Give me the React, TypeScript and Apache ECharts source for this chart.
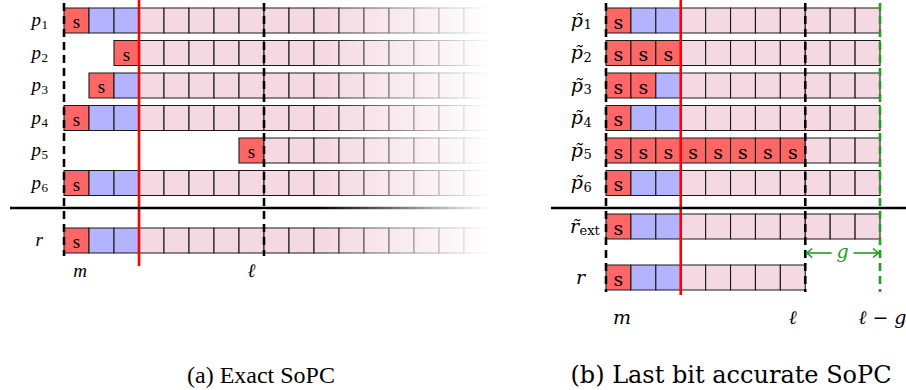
import { useEffect, useRef } from 'react';
import * as echarts from 'echarts';

const SERIF = 'Liberation Serif';
const SERIF_B = 'DejaVu Serif';

// ---------- Panel (a): Exact SoPC ----------
const rowBaseA = ['p', 'p', 'p', 'p', 'p', 'p', 'r'];
const rowSubA = ['1', '2', '3', '4', '5', '6', ''];
const startA = [0, 2, 1, 0, 7, 0, 0];
const signA = [1, 1, 1, 1, 1, 1, 1];
const blueA = [2, 0, 1, 2, 0, 2, 2];
const endA = [17, 17, 17, 17, 17, 17, 17];
const markerColA = [0, 3, 8];
const markerKindA = ['dash', 'red', 'dash'];
const axisLabelA = ['m', 'ℓ'];
const axisLabelColA = [0, 8];

// ---------- Panel (b): Last bit accurate SoPC ----------
const rowBaseB = ['p\u0303', 'p\u0303', 'p\u0303', 'p\u0303', 'p\u0303', 'p\u0303', 'r\u0303', 'r'];
const rowSubB = ['1', '2', '3', '4', '5', '6', 'ext', ''];
const startB = [0, 0, 0, 0, 0, 0, 0, 0];
const signB = [1, 3, 2, 1, 8, 1, 1, 1];
const blueB = [2, 0, 1, 2, 0, 2, 2, 2];
const endB = [11, 11, 11, 11, 11, 11, 11, 8];
const markerColB = [0, 3, 8, 11];
const markerKindB = ['dash', 'red', 'dash', 'green'];
const axisLabelB = ['m', 'ℓ', 'ℓ − g'];
const axisLabelColB = [0, 8, 11];
const gapFromB = 8;
const gapToB = 11;
const gapLabel = 'g';

const captions = ['(a) Exact SoPC', '(b) Last bit accurate SoPC'];

// ---------- layout (pixels / styling) ----------
const CELL_H = 25;
const ROW_TOP_A = [8, 40.5, 73, 105.5, 138, 170.5, 228];
const ROW_TOP_B = [8, 40.5, 73, 105.5, 138, 170.5, 214, 265];
const LINES_A = { top: 3, bottom: 256, redTop: 0, redBottom: 266 };
const LINES_B = { top: 3, bottom: 292, redTop: 0, redBottom: 295 };
const AXIS_LABEL_Y_A = 270;
const AXIS_LABEL_Y_B = 317;
const AXIS_LABEL_DX: Record<string, number> = { 'm': 0.64, 'ℓ': -0.5, 'ℓ − g': 0.1 };
const GAP_Y = 253;

const C_S = '#ff6666';
const C_BLUE = '#b3b3ff';
const C_PINK = '#f4d8e2';
const C_RED = '#ff0000';
const C_GREEN = '#1f9f1f';
const C_BORDER = '#1a1a1a';

function buildCells(start: number[], sign: number[], blue: number[], end: number[]) {
  const out: number[][] = [];
  for (let r = 0; r < start.length; r++) {
    for (let c = start[r]; c < end[r]; c++) {
      const kind = c < start[r] + sign[r] ? 0 : c < start[r] + sign[r] + blue[r] ? 1 : 2;
      out.push([c, r, kind]);
    }
  }
  return out;
}

function cellRenderer(rowTop: number[], fam: string) {
  return (_params: any, api: any) => {
    const col = api.value(0);
    const row = api.value(1);
    const kind = api.value(2);
    const top = rowTop[row];
    const p0 = api.coord([col, top]);
    const p1 = api.coord([col + 1, top + CELL_H]);
    const fill = kind === 0 ? C_S : kind === 1 ? C_BLUE : C_PINK;
    const children: any[] = [
      {
        type: 'rect',
        shape: { x: p0[0], y: p0[1], width: p1[0] - p0[0], height: p1[1] - p0[1] },
        style: { fill, stroke: C_BORDER, lineWidth: 1.1 },
      },
    ];
    if (kind === 0) {
      children.push({
        type: 'text',
        style: {
          text: 's', x: (p0[0] + p1[0]) / 2, y: (p0[1] + p1[1]) / 2 + 1,
          align: 'center', verticalAlign: 'middle', fontSize: 19, fontFamily: fam, fill: '#000',
        },
      });
    }
    return { type: 'group', children };
  };
}

function labelRenderer(rowTop: number[], bases: string[], subs: string[], fam: string) {
  return (_params: any, api: any) => {
    const i = api.value(1);
    const top = rowTop[i];
    const x0 = api.coord([0, top])[0];
    const yc = api.coord([0, top + CELL_H / 2])[1];
    const sub = subs[i];
    const children: any[] = [];
    if (sub) {
      const anchor = x0 - (sub.length > 1 ? 27 : 23);
      children.push({
        type: 'text',
        style: { text: bases[i], x: anchor, y: yc - 1, align: 'right', verticalAlign: 'middle', fontSize: 19, fontStyle: 'italic', fontFamily: fam, fill: '#000' },
      });
      children.push({
        type: 'text',
        style: { text: sub, x: anchor + 0.5, y: yc + 4, align: 'left', verticalAlign: 'middle', fontSize: 13, fontFamily: fam, fill: '#000' },
      });
    } else {
      children.push({
        type: 'text',
        style: { text: bases[i], x: x0 - 21, y: yc - 1, align: 'right', verticalAlign: 'middle', fontSize: 19, fontStyle: 'italic', fontFamily: fam, fill: '#000' },
      });
    }
    return { type: 'group', children };
  };
}

function markerRenderer(kinds: string[], lines: { top: number; bottom: number; redTop: number; redBottom: number }) {
  return (_params: any, api: any) => {
    const col = api.value(0);
    const kind = kinds[api.value(1)];
    const isRed = kind === 'red';
    const pt = api.coord([col, isRed ? lines.redTop : lines.top]);
    const pb = api.coord([col, isRed ? lines.redBottom : lines.bottom]);
    const stroke = isRed ? C_RED : kind === 'green' ? C_GREEN : '#000';
    const style: any = { stroke, lineWidth: 2.6 };
    if (!isRed) style.lineDash = [8, 5];
    return { type: 'line', shape: { x1: pt[0], y1: pt[1], x2: pb[0], y2: pb[1] }, style };
  };
}

function axisLabelRenderer(labels: string[], y: number, fam: string) {
  return (_params: any, api: any) => {
    const col = api.value(0);
    const text = labels[api.value(1)];
    const p = api.coord([col + (AXIS_LABEL_DX[text] ?? 0), y]);
    return {
      type: 'text',
      style: { text, x: p[0], y: p[1], align: 'center', verticalAlign: 'middle', fontSize: 19, fontStyle: 'italic', fontFamily: fam, fill: '#000' },
    };
  };
}

function gapRenderer(_params: any, api: any) {
  const a = api.coord([api.value(0), GAP_Y]);
  const b = api.coord([api.value(1), GAP_Y]);
  const mid = (a[0] + b[0]) / 2;
  const y = a[1];
  const lw = 1.6;
  return {
    type: 'group',
    children: [
      { type: 'line', shape: { x1: a[0] + 1, y1: y, x2: mid - 11, y2: y }, style: { stroke: C_GREEN, lineWidth: lw } },
      { type: 'line', shape: { x1: mid + 11, y1: y, x2: b[0] - 1, y2: y }, style: { stroke: C_GREEN, lineWidth: lw } },
      { type: 'polyline', shape: { points: [[a[0] + 7, y - 4.5], [a[0] + 1.5, y], [a[0] + 7, y + 4.5]] }, style: { stroke: C_GREEN, lineWidth: lw, fill: 'none' } },
      { type: 'polyline', shape: { points: [[b[0] - 7, y - 4.5], [b[0] - 1.5, y], [b[0] - 7, y + 4.5]] }, style: { stroke: C_GREEN, lineWidth: lw, fill: 'none' } },
      {
        type: 'text',
        style: { text: gapLabel, x: mid, y: y - 2, align: 'center', verticalAlign: 'middle', fontSize: 19, fontStyle: 'italic', fontFamily: SERIF_B, fill: C_GREEN },
      },
    ],
  };
}

export default function App() {
  const ref = useRef<HTMLDivElement>(null);
  useEffect(() => {
    document.body.style.margin = '0';
    if (!ref.current) return;
    const chart = echarts.init(ref.current, null, { renderer: 'svg' });
    const cellsA = buildCells(startA, signA, blueA, endA);
    const cellsB = buildCells(startB, signB, blueB, endB);
    const colsA = Math.max(...endA);
    const colsB = Math.max(...endB);
    chart.setOption({
      animation: false,
      backgroundColor: '#fff',
      grid: [
        { left: 64, top: 0, width: 25 * colsA, height: 390 },
        { left: 606, top: 0, width: 274, height: 390 },
      ],
      xAxis: [
        { type: 'value', gridIndex: 0, min: 0, max: colsA, show: false },
        { type: 'value', gridIndex: 1, min: 0, max: colsB, show: false },
      ],
      yAxis: [
        { type: 'value', gridIndex: 0, min: 0, max: 390, inverse: true, show: false },
        { type: 'value', gridIndex: 1, min: 0, max: 390, inverse: true, show: false },
      ],
      series: [
        { type: 'custom', xAxisIndex: 0, yAxisIndex: 0, clip: false, data: cellsA, renderItem: cellRenderer(ROW_TOP_A, SERIF) },
        { type: 'custom', xAxisIndex: 1, yAxisIndex: 1, clip: false, data: cellsB, renderItem: cellRenderer(ROW_TOP_B, SERIF_B) },
        { type: 'custom', xAxisIndex: 0, yAxisIndex: 0, clip: false, data: rowBaseA.map((_, i) => [0, i]), renderItem: labelRenderer(ROW_TOP_A, rowBaseA, rowSubA, SERIF) },
        { type: 'custom', xAxisIndex: 1, yAxisIndex: 1, clip: false, data: rowBaseB.map((_, i) => [0, i]), renderItem: labelRenderer(ROW_TOP_B, rowBaseB, rowSubB, SERIF_B) },
        { type: 'custom', xAxisIndex: 0, yAxisIndex: 0, clip: false, data: markerColA.map((c, i) => [c, i]), renderItem: markerRenderer(markerKindA, LINES_A) },
        { type: 'custom', xAxisIndex: 1, yAxisIndex: 1, clip: false, data: markerColB.map((c, i) => [c, i]), renderItem: markerRenderer(markerKindB, LINES_B) },
        { type: 'custom', xAxisIndex: 0, yAxisIndex: 0, clip: false, data: axisLabelColA.map((c, i) => [c, i]), renderItem: axisLabelRenderer(axisLabelA, AXIS_LABEL_Y_A, SERIF) },
        { type: 'custom', xAxisIndex: 1, yAxisIndex: 1, clip: false, data: axisLabelColB.map((c, i) => [c, i]), renderItem: axisLabelRenderer(axisLabelB, AXIS_LABEL_Y_B, SERIF_B) },
        { type: 'custom', xAxisIndex: 1, yAxisIndex: 1, clip: false, data: [[gapFromB, gapToB]], renderItem: gapRenderer },
      ],
      graphic: [
        { type: 'line', z: 50, shape: { x1: 10, y1: 208, x2: 492, y2: 208 }, style: { stroke: '#000', lineWidth: 2.6 } },
        { type: 'line', z: 50, shape: { x1: 551, y1: 208, x2: 906, y2: 208 }, style: { stroke: '#000', lineWidth: 2.6 } },
        {
          type: 'rect', z: 100, shape: { x: 318, y: 0, width: 178, height: 262 },
          style: {
            fill: {
              type: 'linear', x: 0, y: 0, x2: 1, y2: 0,
              colorStops: [
                { offset: 0, color: 'rgba(255,255,255,0)' },
                { offset: 0.97, color: 'rgba(255,255,255,1)' },
                { offset: 1, color: 'rgba(255,255,255,1)' },
              ],
            },
          },
        },
        {
          type: 'text', z: 100,
          style: { text: captions[0], x: 261, y: 375, align: 'center', verticalAlign: 'middle', fontSize: 24, fontFamily: SERIF, fill: '#000' },
        },
        {
          type: 'text', z: 100,
          style: { text: captions[1], x: 731, y: 375, align: 'center', verticalAlign: 'middle', fontSize: 24, fontFamily: SERIF_B, fill: '#000' },
        },
      ],
    });
    return () => chart.dispose();
  }, []);
  return <div ref={ref} style={{ width: 906, height: 390 }} />;
}
